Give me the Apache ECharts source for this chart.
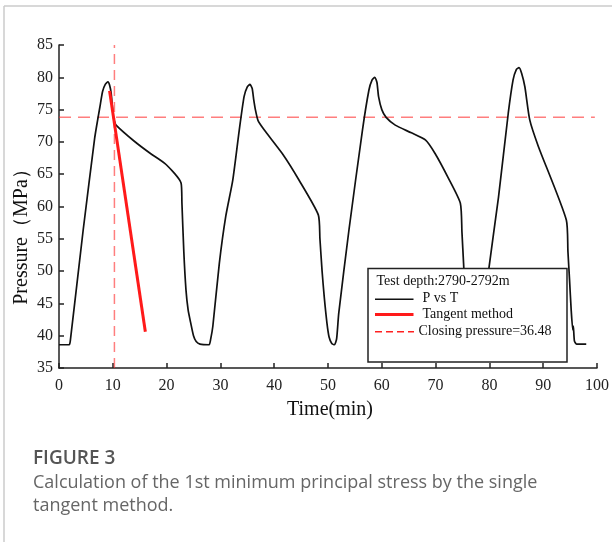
<!DOCTYPE html>
<html>
<head>
<meta charset="utf-8">
<script src="https://cdn.jsdelivr.net/npm/echarts@6/dist/echarts.min.js"></script>
<style>
html,body{margin:0;padding:0;background:#fff;}
#chart{width:612px;height:542px;}
</style>
</head>
<body>
<div id="chart"></div>
<script>
// ---- data ----
const timeMin = [0, 1.9, 2.1, 4.5, 6.6, 7.0, 7.6, 8.1, 8.6, 9.1, 9.4, 9.7, 10.05, 10.3, 10.6,
  14.0, 17.0, 19.9, 22.7, 22.85, 23.2, 23.6, 24.0, 24.5, 25.0, 25.5, 26.2, 27.9,
  28.2, 28.6, 29.8, 31.0, 32.3, 33.5, 34.4, 35.0, 35.5, 35.9, 36.2, 36.5, 37.0, 38.2,
  41.5, 44.6, 48.2, 48.5, 48.9, 49.3, 49.8, 50.2, 50.7, 51.2, 51.6, 52.0, 53.9, 56.4,
  57.6, 58.2, 58.7, 59.1, 59.4, 60.0, 60.8, 62.5, 65.5, 68.1, 69.9, 72.3, 74.6,
  74.9, 75.2, 75.6, 76.2, 76.8, 77.6, 78.4, 79.0, 79.9, 81.7, 83.5, 84.4, 85.0, 85.5,
  86.0, 86.6, 87.5, 89.1, 94.3, 94.6, 94.9, 95.2, 95.5, 95.6, 95.8, 96.2, 98.0];
const pressureMPa = [38.6, 38.6, 39.2, 56.4, 70.4, 72.5, 75.4, 77.8, 78.9, 79.3, 78.8, 77.5, 74.2, 73.2, 72.6,
  70.1, 68.2, 66.5, 63.6, 60.5, 53.0, 47.1, 44.0, 41.9, 40.0, 39.1, 38.7, 38.6,
  39.5, 41.5, 51.2, 58.5, 64.1, 71.8, 77.0, 78.5, 78.9, 78.3, 76.5, 75.0, 73.3, 71.8,
  68.2, 64.1, 58.7, 55.0, 50.0, 46.0, 42.0, 39.8, 38.8, 38.6, 39.5, 43.5, 56.4, 71.8,
  78.0, 79.6, 80.0, 79.2, 77.0, 75.0, 73.8, 72.6, 71.4, 70.3, 68.2, 64.5, 60.5,
  56.0, 51.2, 45.0, 40.5, 38.8, 38.6, 39.5, 43.0, 50.4, 61.5, 74.4, 79.6, 81.2, 81.5,
  80.6, 78.5, 73.4, 69.3, 57.9, 53.0, 48.6, 44.0, 40.9, 41.5, 39.2, 38.7, 38.7];
const tangentTime = [9.4, 16.05];
const tangentPressure = [77.9, 40.6];
const closingLevel = 73.8;      // horizontal dashed line level
const closingLevelSpan = [0, 99.6];
const closingTime = 10.3;       // vertical dashed line time
const closingTimeSpan = [35, 85];
const xTicks = [0, 100, 10];    // min, max, interval
const yTicks = [35, 85, 5];
const legendTitle = 'Test depth:2790-2792m';
const seriesNames = ['P vs T', 'Tangent method', 'Closing pressure=36.48'];

const serif = 'Liberation Serif, Times New Roman, serif';
const dashColor = 'rgba(255,40,40,0.6)';

const chart = echarts.init(document.getElementById('chart'), null, {renderer: 'canvas'});

const lx = 368, ly = 268.5, lw = 199, lh = 93.5;

chart.setOption({
  animation: false,
  backgroundColor: '#fff',
  grid: {left: 59, right: 13, top: 45, bottom: 174, containLabel: false},
  xAxis: {
    type: 'value', min: xTicks[0], max: xTicks[1], interval: xTicks[2],
    axisLine: {lineStyle: {color: '#222', width: 1.5}},
    axisTick: {inside: true, length: 5, lineStyle: {color: '#222', width: 1.5}},
    axisLabel: {color: '#222', fontSize: 16, fontFamily: serif, margin: 10},
    splitLine: {show: false}
  },
  yAxis: {
    type: 'value', min: yTicks[0], max: yTicks[1], interval: yTicks[2],
    axisLine: {show: true, lineStyle: {color: '#222', width: 1.5}},
    axisTick: {show: true, inside: true, length: 5, lineStyle: {color: '#222', width: 1.5}},
    axisLabel: {color: '#222', fontSize: 16, fontFamily: serif, margin: 6},
    splitLine: {show: false}
  },
  series: [
    {
      name: seriesNames[0], type: 'line', symbol: 'none', z: 3, smooth: 0.2,
      data: timeMin.map((t, i) => [t, pressureMPa[i]]),
      lineStyle: {color: '#111', width: 1.7}
    },
    {
      name: seriesNames[1], type: 'line', symbol: 'none', z: 4,
      data: tangentTime.map((t, i) => [t, tangentPressure[i]]),
      lineStyle: {color: '#ff1a1a', width: 3}
    },
    {
      name: seriesNames[2], type: 'line', symbol: 'none', z: 2,
      data: closingLevelSpan.map(t => [t, closingLevel]),
      lineStyle: {color: dashColor, width: 1.5, type: [12, 7]}
    },
    {
      name: 'closing-time', type: 'line', symbol: 'none', z: 2,
      data: closingTimeSpan.map(p => [closingTime, p]),
      lineStyle: {color: dashColor, width: 1.5, type: [10, 6]}
    }
  ],
  graphic: [
    // outer frame
    {type: 'line', shape: {x1: 4, y1: 6, x2: 612, y2: 6}, style: {stroke: '#cbcbcb', lineWidth: 1.5}, z: 1},
    {type: 'line', shape: {x1: 4, y1: 6, x2: 4, y2: 542}, style: {stroke: '#cbcbcb', lineWidth: 1.5}, z: 1},
    // axis titles
    {type: 'text', x: 22, y: 232, rotation: Math.PI / 2,
      style: {text: 'Pressure（MPa）', font: '20px ' + serif, fill: '#111', align: 'center', verticalAlign: 'middle'}},
    {type: 'text', x: 330, y: 410,
      style: {text: 'Time(min)', font: '20px ' + serif, fill: '#111', align: 'center', verticalAlign: 'middle'}},
    // legend box
    {type: 'rect', z: 100, shape: {x: lx, y: ly, width: lw, height: lh},
      style: {fill: '#fff', stroke: '#222', lineWidth: 1.5}},
    {type: 'text', z: 101, x: 376.5, y: 281.5,
      style: {text: legendTitle, font: '14px ' + serif, fill: '#111', verticalAlign: 'middle'}},
    {type: 'line', z: 101, shape: {x1: 375, y1: 299.3, x2: 413.5, y2: 299.3}, style: {stroke: '#111', lineWidth: 1.6}},
    {type: 'text', z: 101, x: 422.5, y: 298.5,
      style: {text: seriesNames[0], font: '14px ' + serif, fill: '#111', verticalAlign: 'middle'}},
    {type: 'line', z: 101, shape: {x1: 375, y1: 314.5, x2: 413.5, y2: 314.5}, style: {stroke: '#ff1a1a', lineWidth: 3}},
    {type: 'text', z: 101, x: 422.5, y: 314.5,
      style: {text: seriesNames[1], font: '14px ' + serif, fill: '#111', verticalAlign: 'middle'}},
    {type: 'line', z: 101, shape: {x1: 375, y1: 331.7, x2: 414, y2: 331.7},
      style: {stroke: '#ff2020', lineWidth: 1.5, lineDash: [7, 4]}},
    {type: 'text', z: 101, x: 418.5, y: 331.5,
      style: {text: seriesNames[2], font: '14px ' + serif, fill: '#111', verticalAlign: 'middle'}},
    // caption
    {type: 'text', x: 33, y: 459,
      style: {text: 'FIGURE 3', font: '600 19px "Open Sans", sans-serif', fill: '#555', verticalAlign: 'middle'}},
    {type: 'text', x: 33, y: 482.5,
      style: {text: 'Calculation of the 1st minimum principal stress by the single', font: '18px "Open Sans", sans-serif', fill: '#666', verticalAlign: 'middle'}},
    {type: 'text', x: 33, y: 506,
      style: {text: 'tangent method.', font: '18px "Open Sans", sans-serif', fill: '#666', verticalAlign: 'middle'}}
  ]
});
</script>
</body>
</html>
